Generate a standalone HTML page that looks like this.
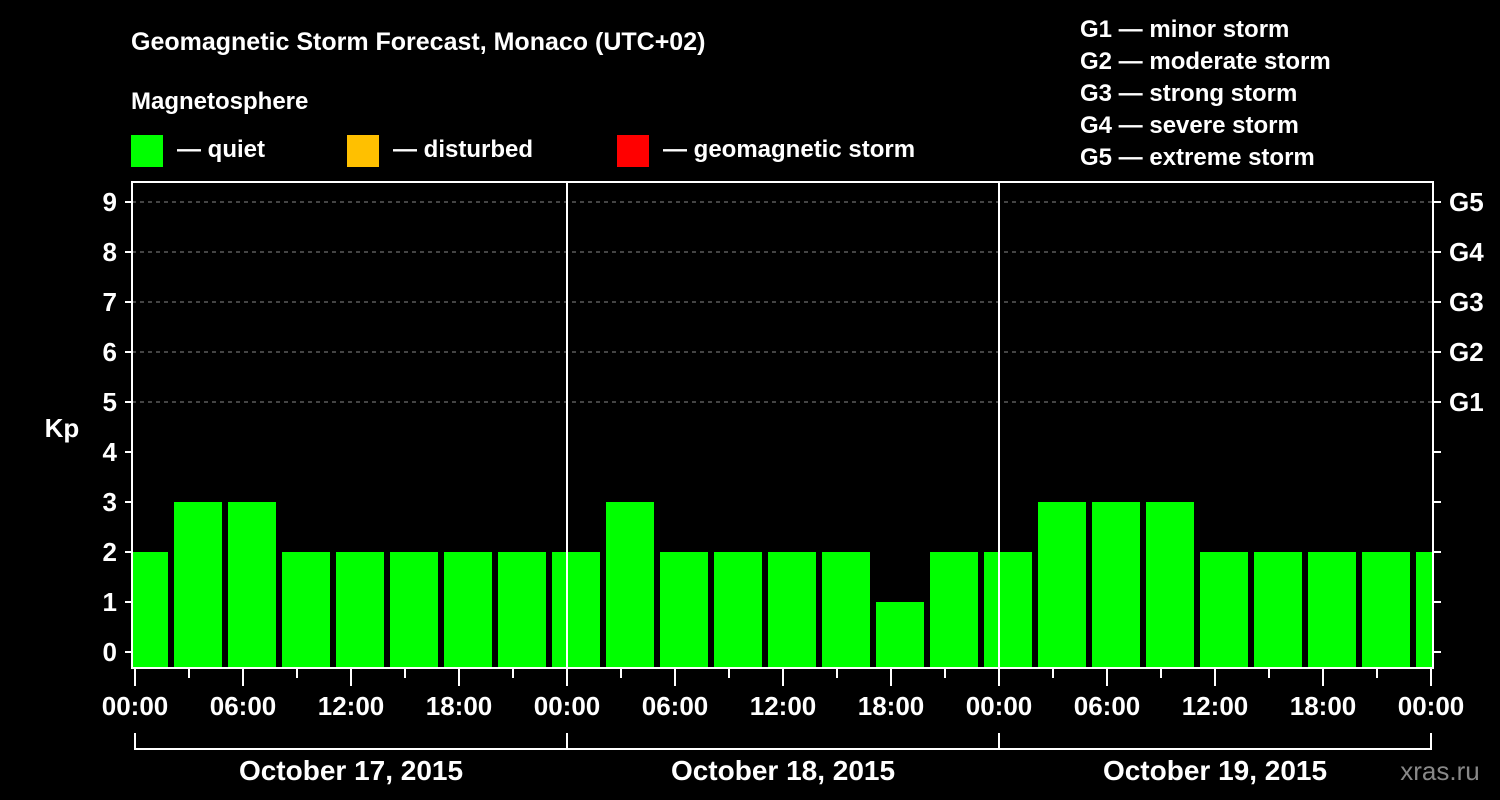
<!DOCTYPE html>
<html><head><meta charset="utf-8"><style>
body{margin:0;background:#000;}
svg{display:block;font-family:"Liberation Sans",Arial,sans-serif;font-weight:bold;}
</style></head><body>
<svg id="chart" width="1500" height="800" viewBox="0 0 1500 800">
<rect width="1500" height="800" fill="#000"/>
<text x="131" y="50" fill="#fff" font-size="25">Geomagnetic Storm Forecast, Monaco (UTC+02)</text>
<text x="131" y="109" fill="#fff" font-size="24">Magnetosphere</text>
<g><rect x="131" y="135" width="32" height="32" fill="#00ff00"/><text x="177" y="157" fill="#fff" font-size="24">— quiet</text></g>
<g><rect x="347" y="135" width="32" height="32" fill="#ffc000"/><text x="393" y="157" fill="#fff" font-size="24">— disturbed</text></g>
<g><rect x="617" y="135" width="32" height="32" fill="#ff0000"/><text x="663" y="157" fill="#fff" font-size="24">— geomagnetic storm</text></g>
<g fill="#fff" font-size="24">
<text x="1080" y="37">G1 — minor storm</text>
<text x="1080" y="69">G2 — moderate storm</text>
<text x="1080" y="101">G3 — strong storm</text>
<text x="1080" y="133">G4 — severe storm</text>
<text x="1080" y="165">G5 — extreme storm</text>
</g>
<text x="62" y="437" fill="#fff" font-size="26" text-anchor="middle">Kp</text>
<g id="grid"></g>
<g id="bars"></g>
<g id="axes"></g>
<text x="1440" y="780" fill="#888" font-size="26" text-anchor="middle" font-weight="normal">xras.ru</text>
</svg>
<script>
const kpValues = [2,3,3,2,2,2,2,2, 2,3,2,2,2,2,1,2, 2,3,3,3,2,2,2,2,2];
const barHours = [0.5,3.5,6.5,9.5,12.5,15.5,18.5,21.5,24.5,27.5,30.5,33.5,36.5,39.5,42.5,45.5,48.5,51.5,54.5,57.5,60.5,63.5,66.5,69.5,72.5];
const yTicks = [0,1,2,3,4,5,6,7,8,9];
const gLabels = ["G1","G2","G3","G4","G5"];
const gLevels = [5,6,7,8,9];
const xTickLabels = ["00:00","06:00","12:00","18:00","00:00","06:00","12:00","18:00","00:00","06:00","12:00","18:00","00:00"];
const dayLabels = ["October 17, 2015","October 18, 2015","October 19, 2015"];

const NS="http://www.w3.org/2000/svg";
const L=132,R=1433,T=182,B=668;
const xS=h=>135+h*18;
const yS=v=>652-v*50;
function mk(p,tag,a){const e=document.createElementNS(NS,tag);for(const k in a)e.setAttribute(k,a[k]);p.appendChild(e);return e;}
const grid=document.getElementById('grid'),bars=document.getElementById('bars'),axes=document.getElementById('axes');
const clip=mk(document.getElementById('chart'),'clipPath',{id:'pc'});mk(clip,'rect',{x:L,y:T,width:R-L,height:B-T});
bars.setAttribute('clip-path','url(#pc)');
gLevels.forEach(v=>{const ln=mk(grid,'line',{x1:L,x2:R,y1:yS(v),y2:yS(v),stroke:'#888','stroke-dasharray':'4,4'});

});
kpValues.forEach((v,i)=>{const c=xS(barHours[i]);const col=v>=5?'#ff0000':(v>=4?'#ffc000':'#00ff00');
const r=mk(bars,'rect',{x:c-24,y:yS(v),width:48,height:B-yS(v),fill:col});

});
[1,2].forEach(d=>{const ln=mk(axes,'line',{x1:xS(24*d),x2:xS(24*d),y1:T,y2:B,stroke:'#fff','stroke-width':2});

});
const fr=mk(axes,'rect',{x:L,y:T,width:R-L,height:B-T,fill:'none',stroke:'#fff','stroke-width':2});


yTicks.forEach(v=>{mk(axes,'line',{x1:125,x2:L,y1:yS(v),y2:yS(v),stroke:'#fff','stroke-width':2});
mk(axes,'line',{x1:R,x2:1441,y1:yS(v),y2:yS(v),stroke:'#fff','stroke-width':2});
const t=mk(axes,'text',{x:117,y:yS(v)+9,fill:'#fff','font-size':26,'text-anchor':'end'});t.textContent=v;

});
gLevels.forEach((v,i)=>{const t=mk(axes,'text',{x:1449,y:yS(v)+9,fill:'#fff','font-size':26});t.textContent=gLabels[i];

});
for(let h=0;h<=72;h+=3){const major=h%6===0;mk(axes,'line',{x1:xS(h),x2:xS(h),y1:B+1,y2:major?686:678,stroke:'#fff','stroke-width':2});}
xTickLabels.forEach((s,i)=>{const t=mk(axes,'text',{x:xS(i*6),y:715,fill:'#fff','font-size':26,'text-anchor':'middle'});t.textContent=s;

});
mk(axes,'line',{x1:xS(0),x2:xS(72),y1:749,y2:749,stroke:'#fff','stroke-width':2});
for(let d=0;d<=3;d++)mk(axes,'line',{x1:xS(24*d),x2:xS(24*d),y1:733,y2:750,stroke:'#fff','stroke-width':2});
dayLabels.forEach((s,i)=>{const t=mk(axes,'text',{x:xS(24*i+12),y:780,fill:'#fff','font-size':28,'text-anchor':'middle'});t.textContent=s;

});
</script>
</body></html>
